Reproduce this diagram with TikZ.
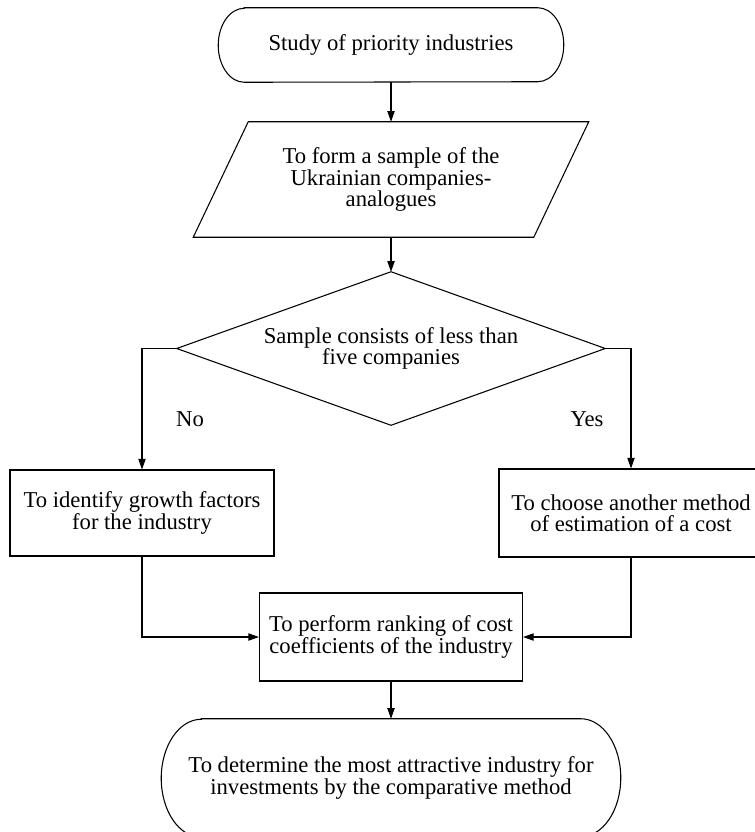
\documentclass[tikz,border=0pt]{standalone}
\usepackage{fontspec}
\setmainfont{Liberation Serif}
\usetikzlibrary{arrows.meta,calc}
\newcommand\stadiumshape[3]{%
  \draw[shp] ($(#1.north west)+(#2,0)$) -- ($(#1.north east)+(-#2,0)$)
    arc[start angle=90,end angle=-90,x radius=#2,y radius=#3]
    -- ($(#1.south west)+(#2,0)$)
    arc[start angle=270,end angle=90,x radius=#2,y radius=#3] -- cycle;}
\begin{document}
\begin{tikzpicture}[x=0.75pt,y=0.75pt,
  lbl/.style={font=\fontsize{17}{16}\selectfont, align=center, inner sep=0pt},
  shp/.style={draw, line width=0.8pt},
  conn/.style={line width=0.8pt, -{Triangle[length=8pt,width=5.5pt]}},
  box/.style={lbl, draw, line width=0.8pt, rectangle},
]
\useasboundingbox (0,0) rectangle (754,-832);

\node[lbl, minimum width=258.75pt, minimum height=55.5pt] (start) at (391,-45) {Study of priority industries};
\stadiumshape{start}{26}{37}

\node[lbl, minimum width=255pt, minimum height=86.25pt] (para) at (391,-179.5) {To form a sample of the\\Ukrainian companies-\\analogues};
\draw[shp] ($(para.north west)+(27.5,0)$) -- ($(para.north east)+(27.5,0)$)
  -- ($(para.south east)+(-27.5,0)$) -- ($(para.south west)+(-27.5,0)$) -- cycle;

\node[lbl, minimum width=321pt, minimum height=114.75pt] (dia) at (391,-348.5) {Sample consists of less than\\five companies};
\draw[shp] (dia.north) -- (dia.east) -- (dia.south) -- (dia.west) -- cycle;

\node[lbl] (lno) at (190,-419) {No};
\node[lbl] (lyes) at (587,-419) {Yes};

\node[box, minimum width=198pt, minimum height=64.5pt] (lbox) at (142,-513) {To identify growth factors\\for the industry};
\node[box, minimum width=198pt, minimum height=66pt] (rbox) at (631,-513) {To choose another method\\of estimation of a cost};

\node[box, minimum width=197.25pt, minimum height=66pt] (mid) at (391,-637) {To perform ranking of cost\\coefficients of the industry};

\node[lbl, minimum width=344.25pt, minimum height=88.5pt] (end) at (391,-778) {To determine the most attractive industry for\\investments by the comparative method};
\stadiumshape{end}{40}{59}

\draw[conn] (start.south) -- (para.north);
\draw[conn] (para.south) -- (dia.north);
\draw[conn] (dia.west) -| (lbox.north);
\draw[conn] (dia.east) -| (rbox.north);
\draw[conn] (lbox.south) |- (mid.west);
\draw[conn] (rbox.south) |- (mid.east);
\draw[conn] (mid.south) -- (end.north);
\end{tikzpicture}
\end{document}
